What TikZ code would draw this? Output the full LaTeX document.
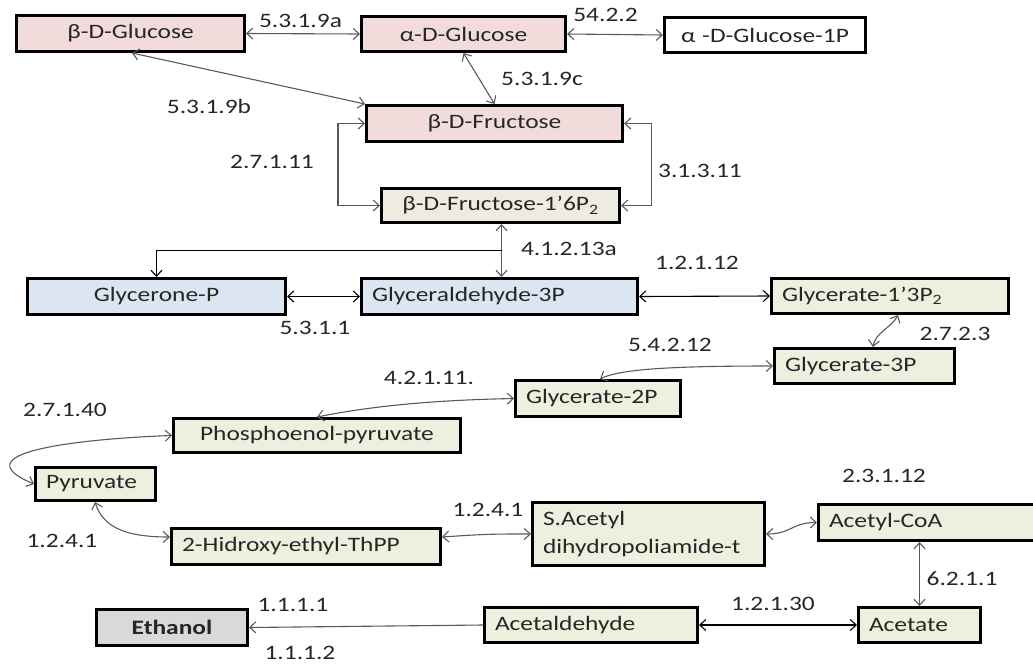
\documentclass[tikz,border=0pt]{standalone}
\usepackage{fontspec}
\setmainfont{Carlito}[FakeStretch=1.24]
\usetikzlibrary{arrows.meta}

\definecolor{inkc}{HTML}{262626}
\definecolor{linegray}{HTML}{595959}
\definecolor{pinkfill}{HTML}{F2DCDB}
\definecolor{bluefill}{HTML}{DCE6F2}
\definecolor{greenfill}{HTML}{EBF1DE}
\definecolor{paperfill}{HTML}{EEECE1}
\definecolor{greyfill}{HTML}{D9D9D9}

\begin{document}
\begin{tikzpicture}[x=1pt,y=-1pt,
  every node/.style={font=\fontsize{20.5}{24}\selectfont, text=inkc},
  box/.style={draw=black, line width=3pt, inner xsep=10.5pt, inner ysep=0pt},
  lbox/.style={box, align=left},
  cbox/.style={box, align=center},
  lab/.style={inner sep=0pt},
  conn/.style={draw=linegray, line width=1.1pt, {Straight Barb[length=6pt,width=11pt]}-{Straight Barb[length=6pt,width=11pt]}},
  connk/.style={conn, draw=black},
  oneway/.style={draw=linegray, line width=1.1pt, -{Straight Barb[length=6pt,width=11pt]}},
]
\useasboundingbox (0,0) rectangle (1033,664);
\clip (0,0) rectangle (1033,664);

% sugars
\node[cbox, fill=pinkfill, text width=207pt, minimum height=36pt] (bglc) at (130.5,33.5) {β-D-Glucose};
\node[cbox, fill=pinkfill, text width=183pt, minimum height=35pt] (aglc) at (463.5,34) {α-D-Glucose};
\node[cbox, fill=white, text width=180pt, minimum height=35pt] (aglcp) at (765,35) {α -D-Glucose-1P};
\node[cbox, fill=pinkfill, text width=235pt, minimum height=36pt] (bfru) at (494.5,123.5) {β-D-Fructose};
\node[cbox, fill=paperfill, text width=217pt, minimum height=34pt] (bfrup) at (500.5,205.5) {β-D-Fructose-1’6P\textsubscript{2}};

% triose phosphates
\node[cbox, fill=bluefill, text width=237pt, minimum height=36pt] (glycp) at (156.5,296.5) {Glycerone-P};
\node[lbox, fill=bluefill, text width=255pt, minimum height=36pt] (gald) at (499.5,296.5) {Glyceraldehyde-3P};

% lower glycolysis
\node[lbox, fill=greenfill, text width=216pt, minimum height=35pt] (g13p) at (890,296) {Glycerate-1’3P\textsubscript{2}};
\node[lbox, fill=greenfill, text width=159pt, minimum height=35pt] (g3p) at (864.5,366) {Glycerate-3P};
\node[lbox, fill=greenfill, text width=144pt, minimum height=36pt] (g2p) at (598,398.5) {Glycerate-2P};
\node[cbox, fill=greenfill, text width=266pt, minimum height=34pt] (pep) at (317,435.5) {Phosphoenol-pyruvate};
\node[lbox, fill=greenfill, text width=99pt, minimum height=33pt] (pyr) at (95.5,484) {Pyruvate};

% pyruvate decarboxylation and fermentation
\node[lbox, fill=greenfill, text width=248pt, minimum height=36pt] (heth) at (306,546.5) {2-Hidroxy-ethyl-ThPP};
\node[lbox, fill=greenfill, text width=211pt, minimum height=63pt, font=\fontsize{20.5}{28}\selectfont] (sacet) at (648.5,534) {S.Acetyl\\dihydropoliamide-t};
\node[lbox, fill=greenfill, text width=199pt, minimum height=36pt] (acoa) at (928.5,522.5) {Acetyl-CoA};
\node[lbox, fill=greenfill, text width=101pt, minimum height=35pt] (acetate) at (919.5,625) {Acetate};
\node[lbox, fill=greenfill, text width=192pt, minimum height=35pt] (acald) at (591,625) {Acetaldehyde};
\node[cbox, fill=greyfill, text width=130pt, minimum height=36pt] (ethanol) at (172,627.5) {\bfseries Ethanol};

% reactions
\coordinate (fork) at (501.5,250.5);
\draw[conn] (bglc.east) -- (aglc.west);
\draw[conn] (aglc.east) -- (aglcp.west);
\draw[conn] ([xshift=1.5pt]bglc.south) -- (bfru.north west);
\draw[conn] (aglc.south) -- (bfru.north);
\draw[conn] (bfrup.west) -- ++(-42,0) |- (bfru.west);
\draw[conn] (bfru.east) -- ++(27.5,0) |- (bfrup.east);
\draw[conn] (bfrup.south -| fork) -- (gald.north -| fork);
\draw[oneway, draw=black] (fork) -| (glycp.north);
\draw[connk] (glycp.east) -- (gald.west);
\draw[connk] (gald.east) -- (g13p.west);
\draw[conn] ([xshift=8pt]g13p.south) .. controls +(-6,12) and +(2,-14) .. ([xshift=8.5pt]g3p.north);
\draw[conn] (g3p.west) .. controls +(-100,0) and +(20,-10) .. ([xshift=2pt]g2p.north);
\draw[conn] (g2p.west) .. controls +(-100,2) and +(40,-8) .. (pep.north);
\draw[conn] (pep.west) .. controls +(-73.5,2.5) and +(-80.5,-34) .. (pyr.west);
\draw[conn] ([xshift=-0.5pt]pyr.south) .. controls +(8,25) and +(-45,0) .. ([yshift=9.5pt]heth.west);
\draw[conn] ([yshift=9.5pt]heth.east) .. controls +(45,-3) and +(-40,0) .. (sacet.west);
\draw[conn] (sacet.east) .. controls +(25,0) and +(-25,0) .. (acoa.west);
\draw[conn] (acetate.north |- acoa.south) -- (acetate.north);
\draw[connk] (acald.east) -- (acetate.west);
\draw[oneway] (acald.west) -- (ethanol.east);

% enzyme numbers
\node[lab] (l1) at (300.5,21) {5.3.1.9a};
\node[lab] (l2) at (605.5,15) {54.2.2};
\node[lab] (l3) at (209,106) {5.3.1.9b};
\node[lab] (l4) at (542,79) {5.3.1.9c};
\node[lab] (l5) at (272,162) {2.7.1.11};
\node[lab] (l6) at (700,171) {3.1.3.11};
\node[lab] (l7) at (569,249) {4.1.2.13a};
\node[lab] (l8) at (315,328) {5.3.1.1};
\node[lab] (l9) at (697,263) {1.2.1.12};
\node[lab] (l10) at (955,334) {2.7.2.3};
\node[lab] (l11) at (670,345) {5.4.2.12};
\node[lab] (l12) at (429,378) {4.2.1.11.};
\node[lab] (l13) at (65,410) {2.7.1.40};
\node[lab] (l14) at (62,541) {1.2.4.1};
\node[lab] (l15) at (488,510) {1.2.4.1};
\node[lab] (l16) at (884,476) {2.3.1.12};
\node[lab] (l17) at (962,579) {6.2.1.1};
\node[lab] (l18) at (773,604) {1.2.1.30};
\node[lab] (l19) at (293,605) {1.1.1.1};
\node[lab] (l20) at (300,653) {1.1.1.2};
\end{tikzpicture}
\end{document}
